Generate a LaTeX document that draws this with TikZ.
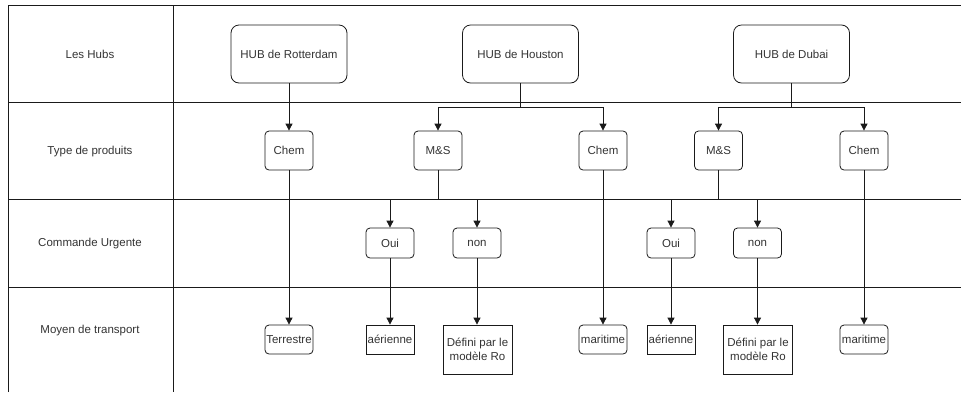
\documentclass[tikz,border=0pt]{standalone}
\usepackage{fontspec}
\setmainfont{Liberation Sans}
\usetikzlibrary{arrows.meta}
\definecolor{txt}{HTML}{333333}
\definecolor{ln}{HTML}{1A1A1A}
\tikzset{
  grid/.style={draw=ln, line width=0.9pt},
  hub/.style={draw=ln, line width=0.8pt, rounded corners=8pt, minimum width=116pt, minimum height=58pt,
    inner sep=0pt, text=txt, font=\fontsize{11.5}{14}\selectfont},
  rbox/.style={draw=ln, line width=0.8pt, rounded corners=4pt, minimum width=48pt, inner sep=0pt,
    text=txt, font=\fontsize{11.5}{14}\selectfont, align=center},
  sbox/.style={draw=ln, line width=0.8pt, minimum width=48pt, inner sep=0pt,
    text=txt, font=\fontsize{11.5}{14}\selectfont, align=center},
  lane/.style={text=txt, font=\fontsize{11.5}{14}\selectfont},
  arr/.style={draw=ln, line width=0.8pt, -{Triangle[length=7pt,width=7pt]}},
}
\begin{document}
\begin{tikzpicture}[x=1pt, y=-1pt]
\useasboundingbox (0,0) rectangle (961,392);

% swimlane grid
\draw[grid] (8,392) -- (8,5) -- (961,5);
\draw[grid] (173,5) -- (173,392);
\draw[grid] (8,102) -- (961,102);
\draw[grid] (8,199) -- (961,199);
\draw[grid] (8,287) -- (961,287);

% lane titles
\node[lane] (l1) at (90,54) {Les Hubs};
\node[lane] (l2) at (90,152) {Type de produits};
\node[lane] (l3) at (90,244) {Commande Urgente};
\node[lane] (l4) at (90,331) {Moyen de transport};

% hubs
\node[hub] (rot) at (289,54) {HUB de Rotterdam};
\node[hub] (hou) at (520.5,54) {HUB de Houston};
\node[hub] (dub) at (791.5,54) {HUB de Dubai};

% product types
\node[rbox, minimum height=39pt] (chemR) at (289,150.5) {Chem};
\node[rbox, minimum height=39pt] (msH) at (438,150.5) {M\&S};
\node[rbox, minimum height=39pt] (chemH) at (603,150.5) {Chem};
\node[rbox, minimum height=39pt] (msD) at (718.5,150.5) {M\&S};
\node[rbox, minimum height=39pt] (chemD) at (864,150.5) {Chem};

% urgent order
\node[rbox, minimum height=30pt] (ouiH) at (390,243) {Oui};
\node[rbox, minimum height=30pt] (nonH) at (477,243) {non};
\node[rbox, minimum height=30pt] (ouiD) at (671,243) {Oui};
\node[rbox, minimum height=30pt] (nonD) at (757.5,243) {non};

% means of transport
\node[rbox, minimum height=29pt] (terr) at (289,339.5) {Terrestre};
\node[sbox, minimum height=29pt] (airH) at (390,339.5) {aérienne};
\node[sbox, minimum width=69pt, minimum height=49pt] (defH) at (477.5,349.5) {Défini par le\\modèle Ro};
\node[rbox, minimum height=29pt] (marH) at (603,339.5) {maritime};
\node[sbox, minimum height=29pt] (airD) at (671,339.5) {aérienne};
\node[sbox, minimum width=69pt, minimum height=49pt] (defD) at (758,349.5) {Défini par le\\modèle Ro};
\node[rbox, minimum height=29pt] (marD) at (864,339.5) {maritime};

% branch points
\coordinate (houB) at (520.5,107);
\coordinate (dubB) at (791.5,107);
\coordinate (msHB) at (438,199);
\coordinate (msDB) at (718.5,199);

% connectors
\draw[arr] (rot) -- (chemR);
\draw[arr] (hou.south) -- (houB) -| (msH.north);
\draw[arr] (houB) -| (chemH.north);
\draw[arr] (dub.south) -- (dubB) -| (msD.north);
\draw[arr] (dubB) -| (chemD.north);

\draw[arr] (chemR) -- (terr);
\draw[arr] (msH.south) -- (msHB) -| (ouiH.north);
\draw[arr] (msHB) -| (nonH.north);
\draw[arr] (chemH) -- (marH);
\draw[arr] (msD.south) -- (msDB) -| (ouiD.north);
\draw[arr] (msDB) -| (nonD.north);
\draw[arr] (chemD) -- (marD);

\draw[arr] (ouiH) -- (airH);
\draw[arr] (nonH.south) -- (nonH.south |- defH.north);
\draw[arr] (ouiD) -- (airD);
\draw[arr] (nonD.south) -- (nonD.south |- defD.north);
\end{tikzpicture}
\end{document}
